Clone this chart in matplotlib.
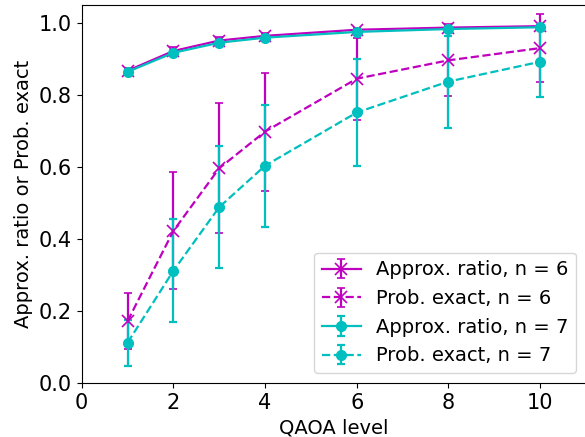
import matplotlib
matplotlib.use('Agg')
import matplotlib.pyplot as plt

# QAOA depth
levels = [1, 2, 3, 4, 6, 8, 10]

# n = 6
approx_n6 = [0.868, 0.923, 0.952, 0.965, 0.982, 0.988, 0.992]
approx_n6_err = [0.008, 0.010, 0.010, 0.008, 0.006, 0.005, 0.004]
exact_n6 = [0.172, 0.423, 0.597, 0.699, 0.846, 0.897, 0.931]
exact_n6_err = [0.078, 0.163, 0.181, 0.164, 0.114, 0.100, 0.094]

# n = 7
approx_n7 = [0.865, 0.918, 0.946, 0.960, 0.976, 0.984, 0.989]
approx_n7_err = [0.007, 0.009, 0.009, 0.008, 0.006, 0.005, 0.004]
exact_n7 = [0.112, 0.312, 0.489, 0.604, 0.752, 0.838, 0.893]
exact_n7_err = [0.064, 0.143, 0.170, 0.170, 0.150, 0.128, 0.099]

fig = plt.figure(figsize=(5.85, 4.37), dpi=100)
ax = fig.add_axes([0.1397, 0.1236, 0.862, 0.8643])

common = dict(capsize=3, linewidth=1.6, elinewidth=1.6, capthick=1.6)
ax.errorbar(levels, approx_n6, yerr=approx_n6_err, color='m', marker='x',
            markersize=8, mew=1.2, linestyle='-', label='Approx. ratio, n = 6', **common)
ax.errorbar(levels, exact_n6, yerr=exact_n6_err, color='m', marker='x',
            markersize=8, mew=1.2, linestyle='--', label='Prob. exact, n = 6', **common)
ax.errorbar(levels, approx_n7, yerr=approx_n7_err, color='c', marker='o',
            markersize=7, linestyle='-', label='Approx. ratio, n = 7', **common)
ax.errorbar(levels, exact_n7, yerr=exact_n7_err, color='c', marker='o',
            markersize=7, linestyle='--', label='Prob. exact, n = 7', **common)

ax.set_xlim(0, 11)
ax.set_ylim(0, 1.05)
ax.set_xticks([0, 2, 4, 6, 8, 10])
ax.set_yticks([0.0, 0.2, 0.4, 0.6, 0.8, 1.0])
ax.tick_params(labelsize=15)
ax.set_xlabel('QAOA level', fontsize=14)
ax.set_ylabel('Approx. ratio or Prob. exact', fontsize=14)
ax.legend(loc='lower right', fontsize=14)

fig.savefig('out.png', dpi=100)
